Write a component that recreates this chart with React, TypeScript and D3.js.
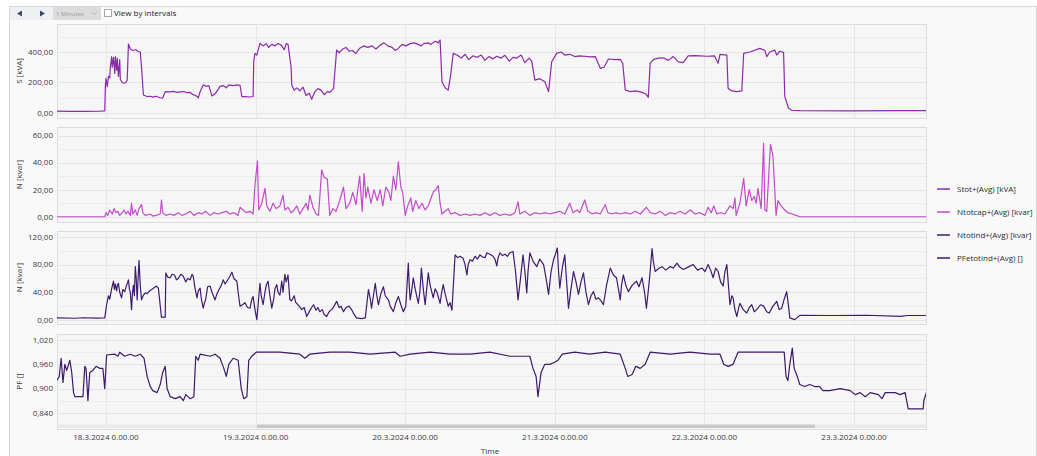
import React from 'react';
import * as d3 from 'd3';

// ---- data (hours relative to 18.3.2024 0:00) ----
const stotData: [number, number][] = [[-7.9,12],[-5.8,11],[-3.4,10],[-1.0,12],[-0.2,14],[-0.1,180],[0,228],[0.2,172],[0.4,240],[0.6,230],[0.7,300],[0.9,369],[1.0,300],[1.2,365],[1.4,260],[1.5,370],[1.7,280],[1.8,360],[2.0,240],[2.2,350],[2.3,220],[2.6,200],[2.9,195],[3.2,200],[3.4,215],[3.6,452],[3.9,420],[4.3,410],[4.8,415],[5.1,405],[5.5,400],[5.7,300],[6.0,118],[6.6,108],[7.1,110],[7.6,104],[8.0,110],[8.7,100],[9.1,98],[9.5,140],[10.3,138],[10.8,142],[11.4,135],[11.9,139],[12.5,141],[13.0,133],[13.5,135],[14.0,120],[14.4,115],[14.8,100],[15.1,140],[15.6,184],[16.0,175],[16.5,180],[17.0,112],[17.6,130],[18.3,175],[18.8,180],[19.3,165],[19.7,185],[20.4,180],[21.0,184],[21.5,182],[21.8,107],[22.3,107],[23.1,105],[23.6,108],[23.7,340],[23.9,391],[24.2,380],[24.7,457],[25.2,440],[25.7,455],[26.1,430],[26.6,450],[27.1,440],[27.6,456],[28.1,445],[28.6,415],[28.9,455],[29.2,450],[29.7,300],[29.8,184],[30.2,150],[30.6,165],[31.1,145],[31.6,170],[32.1,115],[32.6,130],[33.0,90],[33.5,140],[34.0,160],[34.5,150],[35.0,120],[35.5,140],[35.9,135],[36.5,160],[37.0,413],[37.4,395],[38.0,420],[38.5,430],[39.0,405],[39.5,410],[40.1,390],[40.7,425],[41.4,440],[42.0,430],[42.7,440],[43.3,420],[44.0,445],[44.6,460],[45.2,440],[45.9,430],[46.4,410],[46.8,420],[47.5,450],[48.1,440],[48.8,455],[49.4,460],[50.1,450],[50.5,440],[51.0,455],[51.7,460],[52.1,450],[52.8,470],[53.3,460],[53.6,479],[53.9,205],[54.4,165],[54.9,150],[55.3,250],[55.7,391],[56.3,380],[57.0,360],[57.6,385],[58.2,350],[58.9,375],[59.5,365],[60.2,380],[60.8,345],[61.4,370],[62.1,355],[62.7,372],[63.4,360],[64.0,378],[64.7,340],[65.3,365],[65.9,360],[66.6,380],[67.2,330],[67.9,360],[68.3,340],[68.8,216],[69.6,225],[70.4,205],[71.0,140],[71.5,336],[72.3,391],[73.0,400],[73.6,380],[74.4,385],[75.2,370],[76.0,375],[76.8,372],[77.6,368],[78.5,370],[79.3,293],[79.9,300],[80.6,354],[81.7,350],[82.5,352],[82.9,325],[83.3,151],[84.1,140],[85.0,145],[86.0,135],[86.6,125],[87.0,103],[87.3,326],[87.8,350],[88.6,360],[89.4,362],[90.2,345],[91.0,370],[91.8,335],[92.6,330],[93.4,375],[94.5,376],[95.3,374],[96.4,372],[97.6,375],[98.2,326],[98.5,385],[99.6,380],[99.8,162],[100.4,145],[101.2,140],[102.0,145],[102.3,391],[103.3,400],[104.9,424],[105.7,410],[106.0,370],[106.5,400],[107.3,412],[107.6,380],[108.1,405],[108.7,398],[108.9,107],[109.5,31],[110.0,18],[111.3,15],[119.4,14],[127.4,15],[131.6,15]];

const ncapData: [number, number][] = [[-7.9,0],[-0.2,0],[0,3],[0.3,1],[0.6,5],[1.0,2],[1.3,6],[1.6,3],[1.9,4],[2.2,1],[2.6,3],[2.9,5],[3.2,2],[3.5,4],[3.9,1],[4.1,10],[4.3,2],[4.7,5],[5.0,1],[5.3,6],[5.7,9],[5.9,3],[6.3,1],[7.1,2],[7.5,0.5],[8.0,1],[8.7,2],[8.9,12.4],[9.1,3],[9.6,1],[10.3,2],[10.9,1],[11.6,3],[12.2,1],[12.8,2],[13.5,4],[14.1,1],[14.8,3],[15.4,2],[16.0,4],[16.7,1],[17.3,3],[18.0,2],[18.6,3],[19.3,4],[19.9,2],[20.5,3],[21.2,1],[21.5,7],[22.0,5],[22.5,3],[23.1,4],[23.6,2],[23.9,23.5],[24.3,41.3],[24.5,5],[25.0,10],[25.5,21],[25.8,8],[26.3,4],[26.8,10],[27.3,6],[27.9,8],[28.4,16],[28.7,5],[29.2,7],[29.7,3],[30.2,5],[30.6,8],[31.1,2],[31.6,6],[32.1,10],[32.4,5],[32.7,16],[33.2,7],[33.7,2],[34.1,1],[34.6,34.6],[35.0,29],[35.5,28],[35.9,1],[36.4,6],[36.9,4],[37.5,12],[38.1,22],[38.5,6],[39.1,10],[39.6,18],[40.1,9],[40.4,20],[40.7,30],[41.1,4],[41.4,32],[41.7,14],[42.0,22],[42.5,10],[43.0,20],[43.5,12],[44.0,20],[44.4,8],[44.9,22],[45.4,18],[45.7,12],[46.1,30],[46.5,20],[46.9,40.7],[47.3,22],[47.6,18],[48.0,1],[48.4,8],[48.9,14],[49.2,4],[49.7,12],[50.2,6],[50.7,10],[51.2,5],[51.7,8],[52.0,12],[52.5,18.3],[52.9,20],[53.3,23],[53.6,10],[53.9,2],[54.4,4],[54.9,6],[55.3,2],[56.0,3],[56.8,1],[57.6,2],[58.4,1],[59.2,2],[60.0,1],[60.8,3],[61.6,1],[62.4,3],[63.2,1],[64.0,2],[64.8,1],[65.6,3],[66.1,11],[66.4,2],[67.2,4],[68.0,1],[68.8,3],[69.6,2],[70.4,3],[71.2,2],[72.0,3],[72.8,4],[73.6,2],[74.4,10],[74.9,3],[75.6,5],[76.0,3],[76.8,12.4],[77.3,4],[78.0,2],[78.6,3],[79.3,2],[80.1,9],[80.5,3],[81.2,2],[81.8,3],[82.5,2],[83.3,3],[84.1,2],[84.9,4],[85.7,2],[86.7,7],[87.3,3],[88.1,2],[88.9,4],[89.7,1],[90.5,3],[91.3,2],[92.1,4],[92.9,2],[93.7,5],[94.5,2],[95.3,3],[96.1,1],[96.6,7],[97.1,3],[97.5,8],[98.0,2],[98.5,3],[99.3,2],[100.1,8],[100.6,6],[100.9,14],[101.1,1],[101.7,10],[102.3,28.4],[102.7,8],[103.2,20],[103.6,12],[104.0,15],[104.3,10],[104.6,21],[105.1,6],[105.5,54.4],[105.7,5],[106.0,4],[106.6,53.6],[107.0,45],[107.5,1],[107.8,12],[108.3,8],[108.9,5],[109.4,3],[110.1,2],[110.7,1],[111.3,0],[131.6,0]];

const nindData: [number, number][] = [[-7.9,3],[-5.0,2.5],[-3.6,3.2],[-1.5,2.8],[-0.2,3],[0.1,22],[0.4,35],[0.6,30],[0.9,45],[1.2,56],[1.35,44],[1.5,52],[1.7,42],[1.85,50],[2.0,53],[2.2,40],[2.5,32],[2.7,44],[3.0,41],[3.3,50],[3.6,58],[3.75,45],[3.9,40],[4.1,15],[4.25,40],[4.4,50],[4.55,35],[4.7,77],[4.85,60],[5.0,29],[5.15,60],[5.3,86],[5.5,50],[5.7,29],[6.0,36],[6.3,39],[6.6,38],[7.0,42],[7.5,45],[8.1,49],[8.4,46],[8.9,4],[9.5,4],[9.6,68],[9.9,62],[10.3,61],[10.6,66],[11.0,65],[11.3,58],[11.6,60],[12.0,66],[12.4,63],[12.8,55],[13.1,60],[13.5,58],[13.8,66],[14.0,63],[14.3,45],[14.6,32],[14.8,42],[15.1,46],[15.3,30],[15.6,17],[15.8,25],[16.0,30],[16.3,48],[16.7,49],[17.0,40],[17.5,29],[17.8,38],[18.2,45],[18.5,50],[18.8,58],[19.1,52],[19.4,56],[19.8,62],[20.2,69],[20.5,60],[21.0,56],[21.2,40],[21.5,20],[21.9,22],[22.3,25],[22.7,18],[23.1,17],[23.4,30],[23.6,34],[23.9,15],[24.2,0.5],[24.7,53],[24.9,35],[25.2,22],[25.5,40],[25.7,50],[26.0,56],[26.3,35],[26.6,17],[26.9,30],[27.1,45],[27.4,51],[27.6,40],[27.9,36],[28.2,56],[28.4,40],[28.7,66],[28.9,55],[29.2,65],[29.5,29],[29.8,28],[30.2,35],[30.4,26],[30.6,24],[31.0,20],[31.4,15],[31.8,18],[32.2,5],[32.6,12],[33.0,18],[33.3,22],[33.7,14],[34.0,18],[34.3,12],[34.7,15],[35.0,8],[35.4,5],[35.8,12],[36.2,15],[36.6,20],[37.0,27],[37.4,18],[37.7,20],[38.1,12],[38.5,18],[39.0,20],[39.4,15],[39.8,8],[40.2,3],[41.0,2],[41.6,3],[42.1,44],[42.4,30],[42.6,17],[42.9,35],[43.2,53],[43.45,35],[43.7,22],[44.1,38],[44.5,48],[44.8,35],[45.3,29],[45.6,20],[46.1,12],[46.5,25],[46.9,34],[47.3,22],[47.7,12],[48.1,20],[48.5,82],[48.65,50],[48.8,29],[49.0,40],[49.3,61],[49.6,45],[50.1,24],[50.35,40],[50.6,75],[50.9,45],[51.2,22],[51.45,45],[51.7,68],[52.0,50],[52.5,32],[52.8,45],[53.1,40],[53.6,24],[53.85,40],[54.1,51],[54.4,38],[54.9,20],[55.2,25],[55.5,14],[56.0,94],[56.4,90],[56.8,92],[57.3,89],[57.6,80],[57.9,65],[58.1,80],[58.4,87],[58.8,85],[59.2,92],[59.6,88],[60.0,94],[60.4,91],[60.8,90],[61.1,97],[61.6,95],[62.1,92],[62.4,88],[62.7,78],[62.9,90],[63.2,97],[63.6,93],[64.0,95],[64.4,92],[64.8,97],[65.3,99],[65.7,70],[66.1,29],[66.5,60],[66.9,94],[67.2,70],[67.5,39],[67.7,70],[68.0,97],[68.5,85],[69.1,77],[69.6,88],[70.2,80],[70.6,60],[71.0,37],[71.4,70],[71.8,87],[72.1,95],[72.4,104],[72.6,70],[72.8,46],[73.2,75],[73.6,94],[73.9,55],[74.2,17],[74.6,45],[75.0,70],[75.4,55],[75.8,37],[76.2,55],[76.6,68],[77.0,40],[77.4,22],[77.8,35],[78.2,41],[78.6,30],[79.0,32],[79.4,28],[79.8,22],[80.3,50],[80.9,75],[81.4,65],[81.9,61],[82.2,45],[82.5,29],[82.7,50],[83.0,65],[83.4,50],[83.8,41],[84.4,50],[85.1,56],[85.5,48],[86.0,61],[86.4,40],[86.7,17],[87.2,60],[87.6,103],[87.8,85],[88.1,70],[88.6,74],[89.2,77],[89.8,72],[90.5,77],[91.0,75],[91.6,82],[92.1,76],[92.6,73],[93.3,76],[94.2,80],[94.9,72],[95.6,75],[96.1,70],[96.6,80],[97.0,72],[97.4,61],[97.8,75],[98.2,70],[98.6,55],[99.0,49],[99.3,70],[99.6,80],[99.9,45],[100.1,22],[100.4,35],[100.6,32],[100.9,15],[101.2,5],[101.5,18],[101.7,24],[102.2,15],[102.8,10],[103.2,18],[103.6,22],[104.0,12],[104.4,15],[105.0,22],[105.5,20],[106.0,12],[106.4,10],[107.0,20],[107.6,27],[108.0,15],[108.4,17],[108.8,30],[109.2,41],[109.5,20],[109.7,3],[110.5,0.5],[111.3,6.7],[116,6.5],[122,6.8],[127.5,5.3],[128.5,6.5],[131.6,6.5]];

const pfData: [number, number][] = [[-7.9,0.92],[-7.5,0.93],[-7.2,0.975],[-6.9,0.915],[-6.6,0.96],[-6.3,0.945],[-5.8,0.97],[-5.5,0.94],[-5.2,0.89],[-5.0,0.88],[-3.7,0.88],[-3.4,0.955],[-3.2,0.95],[-2.9,0.87],[-2.6,0.94],[-2.1,0.945],[-1.6,0.955],[-1.0,0.95],[-0.5,0.95],[-0.2,0.90],[0.1,0.983],[1.4,0.985],[1.9,0.98],[2.2,0.99],[3.0,0.98],[3.9,0.985],[4.7,0.98],[5.5,0.985],[6.1,0.975],[6.6,0.93],[7.1,0.905],[7.5,0.895],[8.2,0.89],[8.7,0.91],[9.1,0.94],[9.5,0.955],[9.8,0.90],[10.3,0.88],[11.1,0.875],[11.9,0.88],[12.4,0.87],[12.8,0.885],[13.5,0.875],[14.1,0.88],[14.4,0.98],[14.8,0.97],[15.1,0.985],[16.7,0.98],[17.5,0.985],[18.3,0.975],[18.9,0.95],[19.3,0.93],[19.7,0.96],[20.4,0.975],[21.2,0.97],[21.7,0.9],[22.1,0.875],[22.6,0.88],[22.9,0.97],[23.4,0.98],[24.1,0.99],[26.3,0.99],[27.9,0.99],[31.1,0.985],[31.9,0.975],[32.7,0.985],[35.9,0.99],[39.1,0.99],[42.4,0.985],[46.4,0.99],[47.2,0.98],[48.8,0.985],[52.0,0.99],[55.2,0.985],[58.4,0.985],[61.6,0.99],[64.8,0.98],[68.0,0.98],[68.5,0.95],[69.0,0.93],[69.3,0.88],[69.8,0.94],[70.4,0.96],[71.2,0.96],[72.0,0.965],[72.5,0.97],[73.2,0.985],[75.2,0.99],[77.6,0.985],[80.1,0.99],[82.5,0.985],[83.3,0.95],[83.7,0.93],[84.4,0.935],[85.0,0.955],[85.7,0.95],[86.5,0.96],[87.3,0.99],[90.5,0.985],[93.7,0.99],[96.9,0.985],[98.5,0.985],[99.1,0.96],[99.8,0.955],[100.6,0.96],[101.4,0.99],[104.9,0.99],[108.1,0.99],[108.8,0.99],[109.1,0.93],[109.4,0.92],[109.7,0.96],[110.1,1.0],[110.4,0.95],[110.9,0.93],[111.3,0.91],[112.1,0.905],[112.9,0.91],[113.7,0.905],[114.5,0.905],[115.0,0.895],[116.1,0.895],[117.8,0.9],[119.4,0.895],[120.2,0.885],[121.0,0.89],[121.8,0.88],[122.6,0.89],[123.9,0.885],[124.5,0.875],[125.0,0.89],[126.6,0.89],[127.4,0.885],[128.2,0.89],[128.7,0.85],[129.8,0.85],[131.1,0.85],[131.2,0.87],[131.6,0.89]];

const sTicks = [0, 200, 400];
const capTicks = [0, 20, 40, 60];
const indTicks = [0, 40, 80, 120];
const pfTicks = [0.84, 0.9, 0.96, 1.02];

const xTickDays = [18, 19, 20, 21, 22, 23];
const xTickLabels = ['18.3.2024 0.00.00', '19.3.2024 0.00.00', '20.3.2024 0.00.00', '21.3.2024 0.00.00', '22.3.2024 0.00.00', '23.3.2024 0.00.00'];

const legendNames = ['Stot+(Avg) [kVA]', 'Ntotcap+(Avg) [kvar]', 'Ntotind+(Avg) [kvar]', 'PFetotind+(Avg) []'];
const seriesColors = ['#8d2aa9', '#c24cca', '#3e1c6d', '#3b1a68'];

const W = 1037, H = 456;
const PL = 57, PR = 926;
const BASE = new Date(2024, 2, 18, 0, 0, 0).getTime();
const toDate = (h: number) => new Date(BASE + h * 3600e3);

const x = d3.scaleTime().domain([toDate(-7.86), toDate(131.55)]).range([PL, PR]);

const FONT = "'Segoe UI', 'Open Sans', 'Noto Sans', sans-serif";

type Panel = {
  top: number; bottom: number; domain: [number, number]; ticks: number[]; minor: number[];
  data: [number, number][]; color: string; title: string; fmt: (v: number) => string;
};

const fmt2 = (v: number) => v.toFixed(2).replace('.', ',');
const fmt3 = (v: number) => v.toFixed(3).replace('.', ',');

const panels: Panel[] = [
  { top: 24, bottom: 118, domain: [-32.8, 583.6], ticks: sTicks, minor: [100, 300, 500], data: stotData, color: seriesColors[0], title: 'S [kVA]', fmt: fmt2 },
  { top: 127, bottom: 222, domain: [-3.9, 66.4], ticks: capTicks, minor: [10, 30, 50], data: ncapData, color: seriesColors[1], title: 'N [kvar]', fmt: fmt2 },
  { top: 231, bottom: 324, domain: [-5.8, 128.5], ticks: indTicks, minor: [20, 60, 100], data: nindData, color: seriesColors[2], title: 'N [kvar]', fmt: fmt2 },
  { top: 334, bottom: 429, domain: [0.8, 1.035], ticks: pfTicks, minor: [0.87, 0.93, 0.99], data: pfData, color: seriesColors[3], title: 'PF []', fmt: fmt3 },
];

function PanelView({ p }: { p: Panel }) {
  const y = d3.scaleLinear().domain(p.domain).range([p.bottom, p.top]);
  const line = d3.line<[number, number]>().x(d => x(toDate(d[0]))).y(d => y(d[1]));
  const mid = (p.top + p.bottom) / 2;
  const clipId = 'clip' + p.top;
  return (
    <g>
      <defs>
        <clipPath id={clipId}><rect x={PL} y={p.top} width={PR - PL} height={p.bottom - p.top} /></clipPath>
      </defs>
      <rect x={PL + 0.5} y={p.top + 0.5} width={PR - PL} height={p.bottom - p.top} fill="#f6f6f6" stroke="#dcdcdc" />
      {p.minor.map(t => (
        <line key={'m' + t} x1={PL} x2={PR} y1={Math.round(y(t)) + 0.5} y2={Math.round(y(t)) + 0.5} stroke="#ececec" />
      ))}
      {p.ticks.map(t => (
        <line key={'g' + t} x1={PL} x2={PR} y1={Math.round(y(t)) + 0.5} y2={Math.round(y(t)) + 0.5} stroke="#e4e4e4" />
      ))}
      {xTickDays.map(d => {
        const xx = Math.round(x(new Date(2024, 2, d))) + 0.5;
        return <line key={'v' + d} x1={xx} x2={xx} y1={p.top} y2={p.bottom} stroke="#e6e6e6" />;
      })}
      {p.ticks.map(t => (
        <text key={'t' + t} x={53} y={y(t)} dy="0.35em" textAnchor="end" fontSize={8} fill="#3a3a3a" fontFamily={FONT}>{p.fmt(t)}</text>
      ))}
      <text transform={`translate(22,${mid}) rotate(-90)`} textAnchor="middle" fontSize={8} fill="#3a3a3a" fontFamily={FONT}>{p.title}</text>
      <path d={line(p.data) || ''} fill="none" stroke={p.color} strokeWidth={1.2} strokeLinejoin="round" clipPath={`url(#${clipId})`} />
    </g>
  );
}

export default function App() {
  const legendY = [189, 212, 235, 258];
  return (
    <svg width={W} height={H} style={{ position: 'fixed', left: 0, top: 0, background: '#ffffff' }}>
      <rect x={9.5} y={6.5} width={W - 10} height={H} fill="#f9f9f9" stroke="#d6d6d6" />
      {/* toolbar */}
      <rect x={10} y={7} width={43} height={13} fill="#eef0f4" />
      <path d="M17,13.5 L22,10.5 L22,16.5 Z" fill="#3a4a66" />
      <path d="M45,13.5 L40,10.5 L40,16.5 Z" fill="#3a4a66" />
      <rect x={53} y={7} width={48} height={13} fill="#dcdcdc" />
      <text x={56} y={16} fontSize={6} fill="#9a9a9a" fontFamily={FONT}>1 Minutes</text>
      <path d="M92,12 L94.5,14.5 L97,12" fill="none" stroke="#aaaaaa" strokeWidth={0.8} />
      <rect x={104.5} y={9.5} width={7} height={7} fill="#ffffff" stroke="#a8a8a8" />
      <text x={114} y={16} fontSize={8} fill="#222" fontFamily={FONT}>View by intervals</text>

      {panels.map((p, i) => <PanelView key={i} p={p} />)}

      {/* scrollbar */}
      <rect x={PL + 1} y={424.5} width={PR - PL - 1} height={3.5} fill="#eaeaea" />
      <rect x={257} y={424.5} width={558} height={3.5} fill="#c9c9c9" />

      {/* x axis labels */}
      {xTickDays.map((d, i) => (
        <text key={d} x={x(new Date(2024, 2, d))} y={440} textAnchor="middle" fontSize={8} fill="#3a3a3a" fontFamily={FONT}>{xTickLabels[i]}</text>
      ))}
      <text x={490} y={454} textAnchor="middle" fontSize={8} fill="#3a3a3a" fontFamily={FONT}>Time</text>

      {/* legend */}
      {legendNames.map((n, i) => (
        <g key={n}>
          <line x1={937} x2={950} y1={legendY[i]} y2={legendY[i]} stroke={seriesColors[i]} strokeWidth={1.5} />
          <text x={957} y={legendY[i]} dy="0.35em" fontSize={8} fill="#2a2a2a" fontFamily={FONT}>{n}</text>
        </g>
      ))}
    </svg>
  );
}
